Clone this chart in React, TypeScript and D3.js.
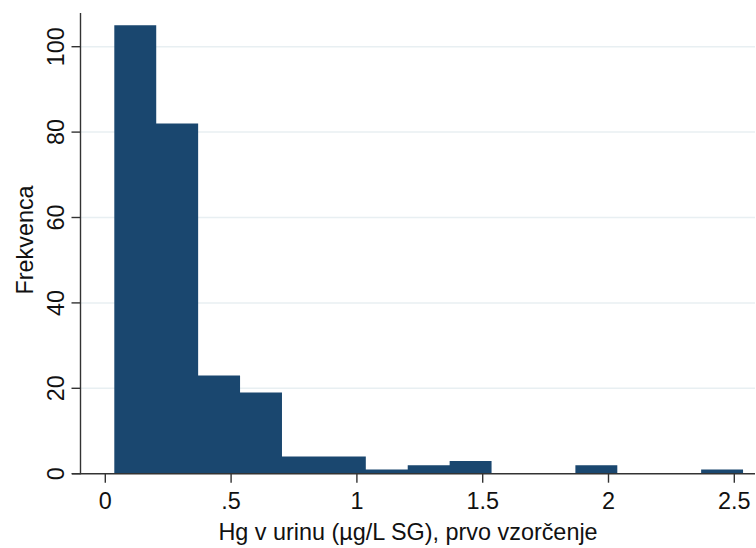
import React from "react";
import * as d3 from "d3";

// Histogram of urinary Hg (first sampling): bin counts, equal-width bins
const binStart = 0.0358;
const binWidth = 0.1666;
const binCounts = [105, 82, 23, 19, 4, 4, 1, 2, 3, 0, 0, 2, 0, 0, 1];

const xTicks = [0, 0.5, 1, 1.5, 2, 2.5];
const xTickLabels = ["0", ".5", "1", "1.5", "2", "2.5"];
const yTicks = [0, 20, 40, 60, 80, 100];

const xTitle = "Hg v urinu (µg/L SG), prvo vzorčenje";
const yTitle = "Frekvenca";

const W = 756;
const H = 548;
const FONT = "'Liberation Sans', Arial, sans-serif";
const FS = 23.4;
const BAR = "#1a476f";
const AXIS = "#333333";
const GRID = "#e8eff2";

export default function App() {
  const x = d3.scaleLinear().domain([0, 2.5]).range([105.3, 734.3]);
  const y = d3.scaleLinear().domain([0, 100]).range([473.7, 46.7]);

  const axisX = 80.5;
  const axisY = y(0);
  const plotRight = 755;

  // bin edges paired with counts; the closing edge repeats the last count
  const steps = binCounts.map((c, i) => ({ edge: binStart + i * binWidth, count: c }));
  steps.push({
    edge: binStart + binCounts.length * binWidth,
    count: binCounts[binCounts.length - 1],
  });

  // one stepped outline for the whole histogram, so adjacent bins join cleanly
  const area = d3
    .area<{ edge: number; count: number }>()
    .x((d) => x(d.edge))
    .y0(axisY)
    .y1((d) => y(d.count))
    .curve(d3.curveStepAfter);

  return (
    <svg
      width={W}
      height={H}
      viewBox={`0 0 ${W} ${H}`}
      style={{ position: "absolute", left: 0, top: 0, background: "#fff" }}
    >
      {/* horizontal grid */}
      {yTicks
        .filter((t) => t > 0)
        .map((t) => (
          <line
            key={`g${t}`}
            x1={axisX}
            x2={plotRight}
            y1={y(t)}
            y2={y(t)}
            stroke={GRID}
            strokeWidth={1.5}
          />
        ))}

      {/* bars */}
      <path d={area(steps) || ""} fill={BAR} />

      {/* y axis */}
      <line x1={axisX} x2={axisX} y1={13} y2={axisY + 0.6} stroke={AXIS} strokeWidth={1.4} />
      {yTicks.map((t) => (
        <g key={`yt${t}`}>
          <line x1={axisX - 9} x2={axisX} y1={y(t)} y2={y(t)} stroke={AXIS} strokeWidth={1.4} />
          <text
            transform={`translate(63.5,${y(t)}) rotate(-90)`}
            textAnchor="middle"
            fontFamily={FONT}
            fontSize={FS}
            fill="#111"
          >
            {t}
          </text>
        </g>
      ))}
      <text
        transform={`translate(33.3,240) rotate(-90)`}
        textAnchor="middle"
        fontFamily={FONT}
        fontSize={FS}
        fill="#111"
      >
        {yTitle}
      </text>

      {/* x axis */}
      <line x1={72} x2={plotRight} y1={axisY} y2={axisY} stroke={AXIS} strokeWidth={1.4} />
      {xTicks.map((t, i) => (
        <g key={`xt${t}`}>
          <line x1={x(t)} x2={x(t)} y1={axisY} y2={axisY + 9} stroke={AXIS} strokeWidth={1.4} />
          <text
            x={x(t)}
            y={508.5}
            textAnchor="middle"
            fontFamily={FONT}
            fontSize={FS}
            fill="#111"
          >
            {xTickLabels[i]}
          </text>
        </g>
      ))}
      <text x={408} y={539.5} textAnchor="middle" fontFamily={FONT} fontSize={FS} fill="#111">
        {xTitle}
      </text>
    </svg>
  );
}
